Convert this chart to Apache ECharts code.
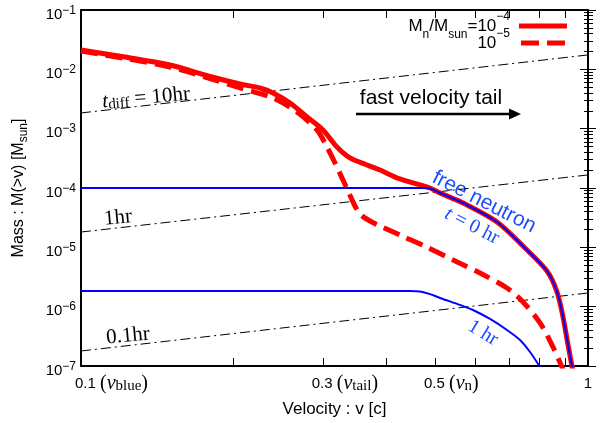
<!DOCTYPE html>
<html><head><meta charset="utf-8">
<script src="https://cdn.jsdelivr.net/npm/echarts@6/dist/echarts.min.js"></script>
<style>html,body{margin:0;padding:0;background:#fff}#c{width:604px;height:423px}</style>
</head><body><div id="c"></div>
<script>
// ---------------- data ----------------
const vSolid = [0.1, 0.1221, 0.1498, 0.1797, 0.2059, 0.2255, 0.2392, 0.2584, 0.2792, 0.3001, 0.3198, 0.3393, 0.3665, 0.3888, 0.4257, 0.488, 0.5107, 0.567, 0.6615, 0.7444, 0.83, 0.8688, 0.8927, 0.9133, 0.9298, 0.9428];
const mSolid = [0.02118, 0.01614, 0.01183, 0.00757, 0.00566, 0.00485, 0.00399, 0.00271, 0.001574, 0.000951, 0.000491, 0.000321, 0.000244, 0.000201, 0.000142, 0.0001, 8.24e-5, 5.59e-5, 2.67e-5, 1.05e-5, 3.99e-6, 1.77e-6, 6.7e-7, 2.26e-7, 1.0e-7, 5.8e-8];
const vDashed = [0.1, 0.1221, 0.1498, 0.1797, 0.2059, 0.2392, 0.2667, 0.292, 0.3056, 0.317, 0.3287, 0.3377, 0.347, 0.3567, 0.3715, 0.3888, 0.4257, 0.4813, 0.5417, 0.6124, 0.6922, 0.7444, 0.8042, 0.8531, 0.8886, 0.9007];
const mDashed = [0.02037, 0.01525, 0.01094, 0.0070, 0.00485, 0.00329, 0.00191, 0.000951, 0.000491, 0.000264, 0.000136, 8.24e-5, 4.98e-5, 3.51e-5, 2.78e-5, 2.29e-5, 1.61e-5, 1.01e-5, 6.12e-6, 3.69e-6, 2.06e-6, 1.20e-6, 5.31e-7, 2.09e-7, 9.6e-8, 7.05e-8];
const vFree0 = [0.1, 0.2, 0.3, 0.4, 0.47, 0.488, 0.5107, 0.567, 0.6615, 0.7444, 0.83, 0.8688, 0.8927, 0.9133, 0.9298, 0.9428];
const mFree0 = [1e-4, 1e-4, 1e-4, 1e-4, 1e-4, 9.8e-5, 8.24e-5, 5.59e-5, 2.67e-5, 1.05e-5, 3.99e-6, 1.77e-6, 6.7e-7, 2.26e-7, 1.0e-7, 5.8e-8];
const vFree1 = [0.1, 0.2, 0.3, 0.4456, 0.4662, 0.488, 0.5106, 0.5592, 0.5932, 0.6409, 0.6922, 0.7343, 0.7685, 0.8042];
const mFree1 = [1.837e-6, 1.837e-6, 1.837e-6, 1.837e-6, 1.80e-6, 1.63e-6, 1.40e-6, 1.07e-6, 8.79e-7, 6.2e-7, 4.04e-7, 2.74e-7, 1.72e-7, 9.6e-8];
const vDiff = [0.1, 1];
const mDiff10 = [1.84e-3, 1.75e-2];
const mDiff1 = [1.81e-5, 1.66e-4];
const mDiff01 = [1.79e-7, 1.70e-6];

const xTickValues = [0.1, 0.2, 0.3, 0.4, 0.5, 0.6, 0.7, 0.8, 0.9, 1];
const xLabelValues = [0.1, 0.3, 0.5, 1];
const xLabelNums = ['0.1', '0.3', '0.5', '1'];
const xLabelSubs = ['blue', 'tail', 'n', ''];
const yMajorTicks = [1e-7, 1e-6, 1e-5, 1e-4, 1e-3, 1e-2, 1e-1];
const yExponents = ['-7', '-6', '-5', '-4', '-3', '-2', '-1'];
const legendNames = ['M1e-4', 'M1e-5'];
const legendLabels = ['{m|M}{sb|n}{m|/M}{sb|sun}{m|=10}{sp|\u22124}', '{m|10}{sp|\u22125}'];

// ---------------- styling ----------------
const SANS = 'Liberation Sans';
const SERIF = 'Liberation Serif';
const xLabelPads = [61, 44, 32, 0];
const X_MIN = 0.1, X_MAX = 1, Y_MIN = 1e-7, Y_MAX = 1e-1;
const GRID = { left: 81, right: 16, top: 10, bottom: 57 };
const yMinorTicks = [];
for (let d = -7; d < -1; d++) for (let k = 2; k <= 9; k++) yMinorTicks.push(+(k * Math.pow(10, d)).toPrecision(3));
const lg = v => +Math.log10(v).toFixed(6);

const zip = (xs, ys) => xs.map((x, i) => [x, ys[i]]);
const findIdx = (arr, v) => arr.findIndex(a => Math.abs(a - v) / a < 1e-6);

function lineSeries(name, data, lineStyle, z, smooth) {
  return { type: 'line', name, data, xAxisIndex: 0, yAxisIndex: 0,
    showSymbol: false, symbol: 'none', smooth: smooth, clip: true, silent: true, z,
    itemStyle: { color: lineStyle.color }, lineStyle };
}
const dashDot = { color: '#000', width: 1, type: [10, 4, 2, 4] };
const blue = '#0000ff';
const blueText = '#1a4cff';

function logAxis(extra) {
  return Object.assign({ type: 'log', logBase: 10, splitLine: { show: false }, minorTick: { show: false },
    minorSplitLine: { show: false }, axisTick: { show: false } }, extra);
}
// linear axes over log10 values, used only to draw the inward tick marks
function tickAxis(min, max, position, values, length) {
  return { type: 'value', min, max, position, z: 10,
    axisLine: { show: false }, axisLabel: { show: false }, splitLine: { show: false },
    minorTick: { show: false }, minorSplitLine: { show: false },
    axisTick: { show: true, inside: true, length, customValues: values, lineStyle: { color: '#000', width: 1 } } };
}
const frameLine = { show: true, onZero: false, lineStyle: { color: '#000', width: 2 } };

const xRich = {
  num: { fontFamily: SANS, fontSize: 15, lineHeight: 20, color: '#000' },
  p: { fontFamily: SERIF, fontSize: 20, lineHeight: 20, color: '#000' },
  v: { fontFamily: SERIF, fontStyle: 'italic', fontSize: 20, lineHeight: 20, color: '#000' },
  sb: { fontFamily: SERIF, fontSize: 15, lineHeight: 14, verticalAlign: 'bottom', color: '#000' }
};
xLabelPads.forEach((p, i) => {
  xRich['n' + i] = { fontFamily: SANS, fontSize: 15, lineHeight: 20, color: '#000', padding: [0, 0, 0, p] };
});

const xTickLog = xTickValues.map(lg);
const yMajorLog = yMajorTicks.map(lg);
const yMinorLog = yMinorTicks.map(lg);

const chart = echarts.init(document.getElementById('c'));
chart.setOption({
  animation: false,
  grid: { left: GRID.left, right: GRID.right, top: GRID.top, bottom: GRID.bottom, containLabel: false, outerBoundsMode: 'none' },
  xAxis: [
    logAxis({ min: X_MIN, max: X_MAX, position: 'bottom', axisLine: frameLine,
      axisLabel: { show: true, customValues: xLabelValues, margin: 8, color: '#000',
        formatter: function (val) {
          const i = findIdx(xLabelValues, val);
          if (i < 0) return '';
          if (!xLabelSubs[i]) return '{num|' + xLabelNums[i] + '}';
          return '{n' + i + '|' + xLabelNums[i] + '}{num| }{p|(}{v|v}{sb|' + xLabelSubs[i] + '}{p|)}';
        },
        rich: xRich },
      name: 'Velocity : v [c]', nameLocation: 'middle', nameGap: 35,
      nameTextStyle: { fontFamily: SANS, fontSize: 17, color: '#000' } }),
    logAxis({ min: X_MIN, max: X_MAX, position: 'top', axisLine: frameLine, axisLabel: { show: false } }),
    tickAxis(lg(X_MIN), lg(X_MAX), 'bottom', xTickLog, 8),
    tickAxis(lg(X_MIN), lg(X_MAX), 'top', xTickLog, 8)
  ],
  yAxis: [
    logAxis({ min: Y_MIN, max: Y_MAX, position: 'left', axisLine: frameLine,
      axisLabel: { show: true, customValues: yMajorTicks, margin: 5, padding: [9, 0, 0, 0], color: '#000',
        formatter: function (val) {
          const i = findIdx(yMajorTicks, val);
          if (i < 0) return '';
          return '{b|10}{s|' + yExponents[i].replace('-', '\u2212') + '}';
        },
        rich: {
          b: { fontFamily: SANS, fontSize: 15, lineHeight: 20, color: '#000' },
          s: { fontFamily: SANS, fontSize: 12, lineHeight: 10, verticalAlign: 'top', color: '#000' }
        } },
      name: '{m|Mass : M(>v) [M}{sb|sun}{m|]}', nameLocation: 'middle', nameGap: 51, nameRotate: 90,
      nameTextStyle: { fontFamily: SANS, fontSize: 16, color: '#000',
        rich: { m: { fontFamily: SANS, fontSize: 16, lineHeight: 22, color: '#000' },
                sb: { fontFamily: SANS, fontSize: 12, lineHeight: 14, verticalAlign: 'bottom', color: '#000' } } } }),
    logAxis({ min: Y_MIN, max: Y_MAX, position: 'right', axisLine: frameLine, axisLabel: { show: false } }),
    tickAxis(lg(Y_MIN), lg(Y_MAX), 'left', yMajorLog, 8),
    tickAxis(lg(Y_MIN), lg(Y_MAX), 'left', yMinorLog, 5),
    tickAxis(lg(Y_MIN), lg(Y_MAX), 'right', yMajorLog, 8),
    tickAxis(lg(Y_MIN), lg(Y_MAX), 'right', yMinorLog, 4)
  ],
  legend: {
    data: [{ name: legendNames[0], icon: 'rect' },
           { name: legendNames[1], icon: 'path://M0,0H18V5H0Z M26,0H44V5H26Z' }],
    orient: 'vertical', align: 'right', right: 37, top: 11, padding: 0,
    itemWidth: 48, itemHeight: 5, itemGap: -13, selectedMode: false,
    formatter: function (name) { return legendLabels[legendNames.indexOf(name)]; },
    textStyle: { color: '#000', fontFamily: SANS, fontSize: 17, padding: [0, 4, 0, 0],
      rich: {
        m: { fontFamily: SANS, fontSize: 17, lineHeight: 30, color: '#000' },
        sb: { fontFamily: SANS, fontSize: 12, lineHeight: 21, verticalAlign: 'bottom', color: '#000' },
        sp: { fontFamily: SANS, fontSize: 12, lineHeight: 6, verticalAlign: 'top', color: '#000' }
      } }
  },
  series: [
    lineSeries('diff10', zip(vDiff, mDiff10), dashDot, 1, false),
    lineSeries('diff1', zip(vDiff, mDiff1), dashDot, 1, false),
    lineSeries('diff01', zip(vDiff, mDiff01), dashDot, 1, false),
    lineSeries(legendNames[0], zip(vSolid, mSolid), { color: '#ff0000', width: 5 }, 3, 0.3),
    lineSeries(legendNames[1], zip(vDashed, mDashed), { color: '#ff0000', width: 5, type: [17, 8], cap: 'butt' }, 3, 0.3),
    lineSeries('free0', zip(vFree0, mFree0), { color: blue, width: 2 }, 4, 0.3),
    lineSeries('free1', zip(vFree1, mFree1), { color: blue, width: 2 }, 4, 0.3)
  ],
  graphic: [
    { type: 'text', x: 146, y: 98, rotation: 0.09, silent: true,
      style: { text: '{i|t}{s|diff}{r| = 10hr}', align: 'center', verticalAlign: 'middle', fill: '#000',
        rich: { i: { fontFamily: SERIF, fontStyle: 'italic', fontSize: 21, lineHeight: 22 },
                s: { fontFamily: SERIF, fontSize: 15, lineHeight: 16, verticalAlign: 'bottom' },
                r: { fontFamily: SERIF, fontSize: 21, lineHeight: 22 } } } },
    { type: 'text', x: 118, y: 218, rotation: 0.09, silent: true,
      style: { text: '1hr', align: 'center', verticalAlign: 'middle', fill: '#000', fontFamily: SERIF, fontSize: 21 } },
    { type: 'text', x: 128, y: 336, rotation: 0.09, silent: true,
      style: { text: '0.1hr', align: 'center', verticalAlign: 'middle', fill: '#000', fontFamily: SERIF, fontSize: 21 } },
    { type: 'text', x: 431, y: 98, silent: true,
      style: { text: 'fast velocity tail', align: 'center', verticalAlign: 'middle', fill: '#000', fontFamily: SANS, fontSize: 21 } },
    { type: 'line', silent: true, shape: { x1: 356, y1: 114, x2: 511, y2: 114 }, style: { stroke: '#000', lineWidth: 2.5 } },
    { type: 'polygon', silent: true, shape: { points: [[509, 108.5], [521, 114], [509, 119.5]] }, style: { fill: '#000' } },
    { type: 'text', x: 484, y: 202, rotation: -0.47, silent: true,
      style: { text: 'free neutron', align: 'center', verticalAlign: 'middle', fill: blueText, fontFamily: SANS, fontSize: 21 } },
    { type: 'text', x: 472, y: 226, rotation: -0.47, silent: true,
      style: { text: '{i|t}{r| = 0 hr}', align: 'center', verticalAlign: 'middle', fill: blueText,
        rich: { i: { fontFamily: SERIF, fontStyle: 'italic', fontSize: 20, fill: blueText },
                r: { fontFamily: SERIF, fontSize: 20, fill: blueText } } } },
    { type: 'text', x: 483, y: 333, rotation: -0.55, silent: true,
      style: { text: '1 hr', align: 'center', verticalAlign: 'middle', fill: blueText, fontFamily: SERIF, fontSize: 20 } }
  ]
});
</script></body></html>
